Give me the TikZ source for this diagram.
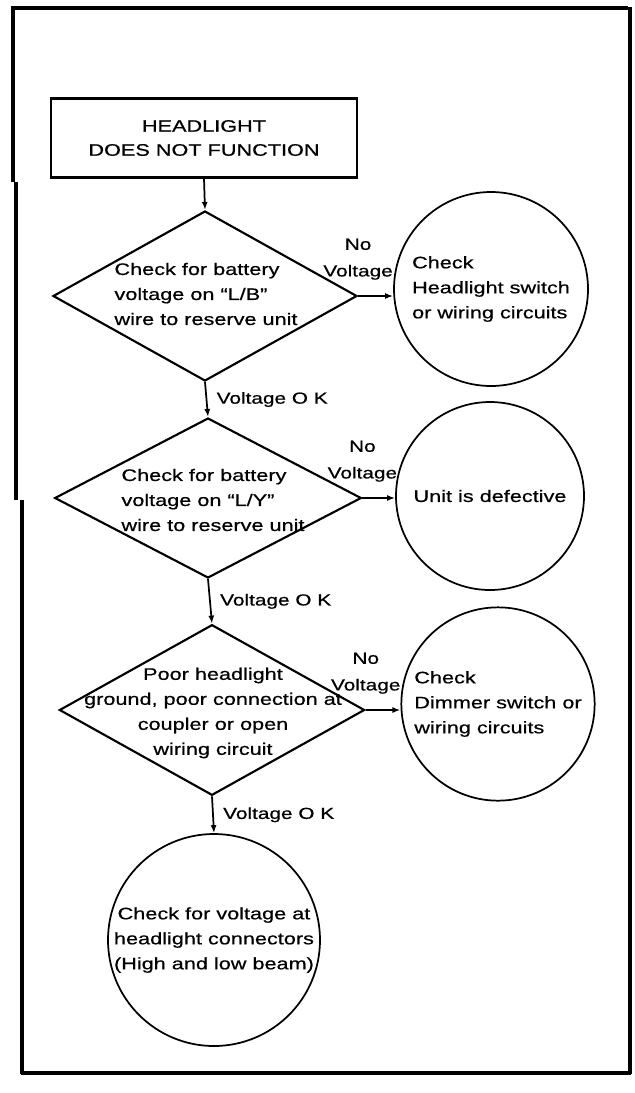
\documentclass[tikz,border=0pt]{standalone}
\usepackage{fontspec}
\setmainfont{Liberation Sans}[FakeStretch=1.3,FakeBold=0.6]
\usetikzlibrary{shapes.geometric,arrows.meta}
\tikzset{
 flow/.style={line width=1.6pt},
 startbox/.style={draw,flow,rectangle,minimum width=229.5pt,minimum height=59.25pt,inner sep=0pt,align=center,font=\fontsize{12.5}{18}\selectfont},
 query/.style={draw,flow,diamond,inner sep=0pt},
 result/.style={draw,line width=1.3pt,circle,inner sep=0pt},
 txt/.style={font=\fontsize{12.5}{18.75}\selectfont},
 lbl/.style={font=\fontsize{12}{20}\selectfont,inner sep=1pt},
 arr/.style={line width=1.3pt,-{Latex[length=6pt,width=4.5pt]}},
 frame/.style={line width=2.6pt}
}
\begin{document}
\begin{tikzpicture}[x=0.75pt,y=-0.75pt]
\useasboundingbox (0,0) rectangle (635,1093);
% frame
\draw[frame] (11,8) -- (628,8);
\draw[frame] (630,7) -- (630,1074);
\draw[frame] (21,1073) -- (631,1073);
\draw[frame] (13,9) -- (13,182) (16,182) -- (16,500) (22,500) -- (22,1074);
% main column
\node[startbox] (start) at (204,138) {HEADLIGHT\\DOES NOT FUNCTION};
\node[query,minimum width=228pt,minimum height=127.5pt] (q1) at (205,296) {};
\node[txt,align=left] (q1t) at (206,294) {Check for battery\\voltage on “L/B”\\wire to reserve unit};
\node[query,minimum width=230pt,minimum height=120pt] (q2) at (208,498) {};
\node[txt,align=left] (q2t) at (213,500) {Check for battery\\voltage on “L/Y”\\wire to reserve unit};
\node[query,minimum width=229pt,minimum height=128pt] (q3) at (212,710) {};
\node[txt,align=center] (q3t) at (213,713) {Poor headlight\\ground, poor connection at\\coupler or open\\wiring circuit};
\node[result,txt,align=center,minimum size=159pt] (c4) at (214,940) {Check for voltage at\\headlight connectors\\(High and low beam)};
% right column
\node[result,txt,align=left,minimum size=145.5pt] (c1) at (491,289) {Check\\Headlight switch\\or wiring circuits};
\node[result,txt,align=left,minimum size=141pt] (c2) at (490,496) {Unit is defective};
\node[result,txt,align=left,minimum size=145pt] (c3) at (498,704) {Check\\Dimmer switch or\\wiring circuits};
% connectors
\draw[arr] (start.south) -- (q1.north);
\draw[arr] (q1.south) -- node[lbl,right,xshift=6pt] (ok1) {Voltage O K} (q2.north);
\draw[arr] (q2.south) -- node[lbl,right,xshift=6pt] (ok2) {Voltage O K} (q3.north);
\draw[arr] (q3.south) -- node[lbl,right,xshift=6pt] (ok3) {Voltage O K} (c4.north);
\draw[arr] (q1.east) -- (q1.east -| c1.west);
\draw[arr] (q2.east) -- (q2.east -| c2.west);
\draw[arr] (q3.east) -- (q3.east -| c3.west);
\node[lbl,align=center,anchor=south] (nv1) at ([yshift=11pt]q1.east) {No\\Voltage};
\node[lbl,align=center,anchor=south] (nv2) at ([yshift=11pt]q2.east) {No\\Voltage};
\node[lbl,align=center,anchor=south] (nv3) at ([yshift=11pt]q3.east) {No\\Voltage};
\end{tikzpicture}
\end{document}
